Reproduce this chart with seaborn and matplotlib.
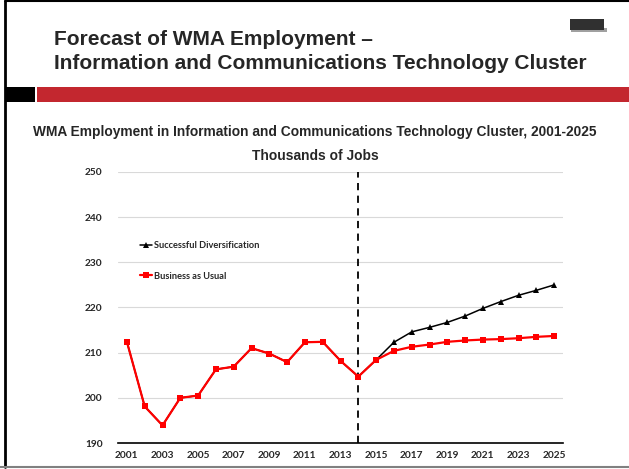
import pandas as pd
import matplotlib.pyplot as plt
import seaborn as sns
from matplotlib.patches import Rectangle
from matplotlib.lines import Line2D

# Data (thousands of jobs)
years = list(range(2001, 2026))
historical = [212.4, 198.1, 193.9, 200.0, 200.5, 206.3, 206.9, 211.0, 209.8, 207.9,
              212.3, 212.4, 208.2, 204.7, 208.4]
bau_forecast = [210.4, 211.3, 211.8, 212.4, 212.7, 212.9, 213.0, 213.2, 213.5, 213.7]
div_forecast = [212.3, 214.6, 215.6, 216.7, 218.1, 219.8, 221.3, 222.7, 223.8, 225.0]
series_names = ['Successful Diversification', 'Business as Usual']
forecast_start = 2014
y_ticks = [190, 200, 210, 220, 230, 240, 250]
x_ticks = list(range(2001, 2026, 2))

df = pd.DataFrame({
    'Year': years,
    series_names[0]: historical + div_forecast,
    series_names[1]: historical + bau_forecast,
})

sns.set_style('white')
plt.rcParams['font.family'] = ['Liberation Sans', 'DejaVu Sans']

fig = plt.figure(figsize=(6.29, 4.69), dpi=100)

# slide decorations
fig.add_artist(Rectangle((37 / 629, 1 - 102 / 469), 1 - 37 / 629, 15 / 469,
                         transform=fig.transFigure, color='#C3272F', lw=0))
fig.add_artist(Rectangle((5 / 629, 1 - 102 / 469), 30 / 629, 15 / 469,
                         transform=fig.transFigure, color='black', lw=0))
fig.add_artist(Line2D([5 / 629, 5 / 629], [0.005, 0.998], transform=fig.transFigure,
                      color='black', lw=2))
fig.add_artist(Line2D([5 / 629, 1], [0.997, 0.997], transform=fig.transFigure,
                      color='black', lw=1.5))
fig.add_artist(Line2D([0, 1], [1 - 467 / 469, 1 - 467 / 469], transform=fig.transFigure,
                      color='#808080', lw=1.5))
# small logo block
fig.add_artist(Rectangle((571 / 629, 1 - 32 / 469), 36 / 629, 4 / 469,
                         transform=fig.transFigure, color='#A0A0A0', lw=0))
fig.add_artist(Rectangle((570 / 629, 1 - 30 / 469), 34 / 629, 11 / 469,
                         transform=fig.transFigure, color='#303030', lw=0))

fig.text(54 / 629, 1 - 45 / 469, 'Forecast of WMA Employment \u2013',
         fontsize=15, fontweight='bold', ha='left', va='baseline')
fig.text(54 / 629, 1 - 69 / 469, 'Information and Communications Technology Cluster',
         fontsize=15, fontweight='bold', ha='left', va='baseline')

fig.text(315 / 629, 1 - 136 / 469,
         'WMA Employment in Information and Communications Technology Cluster, 2001-2025',
         fontsize=9.9, fontweight='bold', ha='center', va='baseline')
fig.text(315 / 629, 1 - 160 / 469, 'Thousands of Jobs',
         fontsize=9.9, fontweight='bold', ha='center', va='baseline')

ax = fig.add_axes([118 / 629, 1 - 443 / 469, 445 / 629, 271 / 469])

sns.lineplot(data=df, x='Year', y=series_names[0], ax=ax, color='black', lw=1.1,
             marker='^', markersize=4.5, markeredgewidth=0, label=series_names[0])
sns.lineplot(data=df, x='Year', y=series_names[1], ax=ax, color='#FF0000', lw=1.6,
             marker='s', markersize=4.5, markeredgewidth=0, label=series_names[1])

ax.axvline(forecast_start, color='black', lw=1.3, ls=(0, (4, 3)), zorder=1)

ax.set_xlim(2000.5, 2025.5)
ax.set_ylim(190, 250)
ax.set_xticks(x_ticks)
ax.set_yticks(y_ticks)
ax.grid(axis='y', color='#D9D9D9', lw=0.8)
ax.set_axisbelow(True)
for side in ['top', 'right', 'left']:
    ax.spines[side].set_visible(False)
ax.spines['bottom'].set_color('black')
ax.spines['bottom'].set_linewidth(1.2)
ax.tick_params(length=0, pad=6)
ax.tick_params(axis='y', pad=11)
for lab in ax.get_xticklabels() + ax.get_yticklabels():
    lab.set_fontfamily(['Lato', 'DejaVu Sans'])
    lab.set_fontweight('bold')
    lab.set_fontsize(7.3)
ax.set_xlabel('')
ax.set_ylabel('')

leg = ax.legend(frameon=False, loc='upper left', bbox_to_anchor=(0.03, 0.775),
                handlelength=1.3, handletextpad=0.2, labelspacing=2.3,
                prop={'family': ['Lato', 'DejaVu Sans'], 'weight': 'bold', 'size': 6.7})

fig.savefig('out.png', dpi=100)
